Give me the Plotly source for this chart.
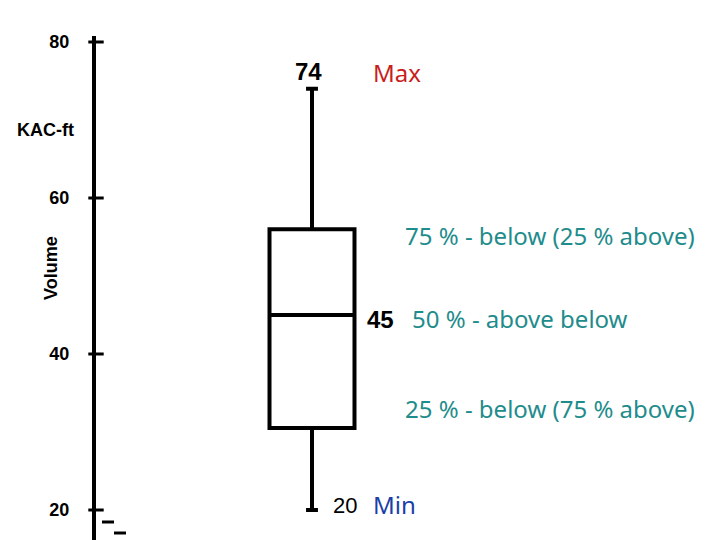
import plotly.graph_objects as go

# ---- data ----
box_min = [20]
box_q1 = [30.5]
box_median = [45]
box_q3 = [56]
box_max = [74]
tick_values = [20, 40, 60, 80]
tick_labels = ["20", "40", "60", "80"]
label_q3 = "75 % - below (25 % above)"
label_med = "50 % - above below"
label_q1 = "25 % - below (75 % above)"

W, H = 720, 540
ML, MT = 96, 36
PW, PH = W - ML, H - MT


def px(xp):
    return (xp - ML) / PW


def py(yp):
    return (H - yp) / PH


X_LEFT = -(312 - ML) / PW
X_RIGHT = X_LEFT + 1

fig = go.Figure()

fig.add_trace(go.Box(
    x=[0], q1=box_q1, median=box_median, q3=box_q3,
    lowerfence=box_min, upperfence=box_max,
    width=85 / PW, whiskerwidth=0.14,
    line=dict(color="black", width=4), fillcolor="white",
    boxpoints=False, hoverinfo="skip", showlegend=False,
))

# axis tick marks crossing the axis line
fig.add_trace(go.Scatter(
    x=[X_LEFT] * len(tick_values), y=tick_values, mode="markers",
    marker=dict(symbol="line-ew", size=11, line=dict(color="black", width=3)),
    cliponaxis=False, hoverinfo="skip", showlegend=False,
))

num_font_b = dict(family="Liberation Sans", size=24, color="black", weight="bold")
num_font = dict(family="Liberation Sans", size=22, color="black")
txt_font = "Noto Sans"
teal = "#1f8c8c"
C = dict(xanchor="center", yanchor="middle", showarrow=False)
L = dict(xanchor="left", yanchor="middle", showarrow=False)

ann = [
    dict(x=0, y=box_max[0], xref="x", yref="y", text=str(box_max[0]),
         font=num_font_b, xshift=-4, yshift=17, **C),
    dict(x=0, y=box_median[0], xref="x", yref="y", text=str(box_median[0]),
         font=num_font_b, xshift=68, yshift=-4, **C),
    dict(x=0, y=box_min[0], xref="x", yref="y", text=str(box_min[0]),
         font=num_font, xshift=33, yshift=5, **C),
    dict(x=px(397), y=py(73), xref="paper", yref="paper", text="Max",
         font=dict(family=txt_font, size=24, color="#c81e1e"), **C),
    dict(x=px(394), y=py(504), xref="paper", yref="paper", text="Min",
         font=dict(family=txt_font, size=24, color="#1a3ea8"), **C),
    dict(x=px(403), y=py(235), xref="paper", yref="paper", text=label_q3,
         font=dict(family=txt_font, size=24, color=teal), **L),
    dict(x=px(410), y=py(318), xref="paper", yref="paper", text=label_med,
         font=dict(family=txt_font, size=24, color=teal), **L),
    dict(x=px(403), y=py(408), xref="paper", yref="paper", text=label_q1,
         font=dict(family=txt_font, size=24, color=teal), **L),
    dict(x=px(46), y=py(130), xref="paper", yref="paper", text="KAC-ft",
         font=dict(family="Liberation Sans", size=18, color="black", weight="bold"), **C),
    dict(x=px(51), y=py(268), xref="paper", yref="paper", text="Volume", textangle=-90,
         font=dict(family="Liberation Sans", size=18, color="black", weight="bold"), **C),
]

shapes = [
    dict(type="line", xref="paper", yref="paper", x0=px(102), x1=px(114), y0=py(522), y1=py(522),
         line=dict(color="black", width=3)),
    dict(type="line", xref="paper", yref="paper", x0=px(114), x1=px(126), y0=py(533), y1=py(533),
         line=dict(color="black", width=3)),
]

slope = 7.8  # px per unit
y_top = 80 + (42 - MT) / slope
y_bot = 20 - (H - 510) / slope

fig.update_layout(
    width=W, height=H,
    margin=dict(l=ML, r=0, t=MT, b=0, pad=0),
    paper_bgcolor="white", plot_bgcolor="white",
    showlegend=False,
    annotations=ann, shapes=shapes,
    xaxis=dict(range=[X_LEFT, X_RIGHT], visible=False, fixedrange=True),
    yaxis=dict(range=[y_bot, y_top], showline=True, linewidth=4, linecolor="black",
               showgrid=False, zeroline=False, ticks="", automargin=False, fixedrange=True,
               tickvals=tick_values, ticktext=tick_labels,
               ticklabelstandoff=19,
               tickfont=dict(family="Liberation Sans", size=18, color="black", weight="bold")),
)

fig.write_html("out.html", config={"displayModeBar": False, "staticPlot": True},
               post_script="document.body.style.margin='0px';")
